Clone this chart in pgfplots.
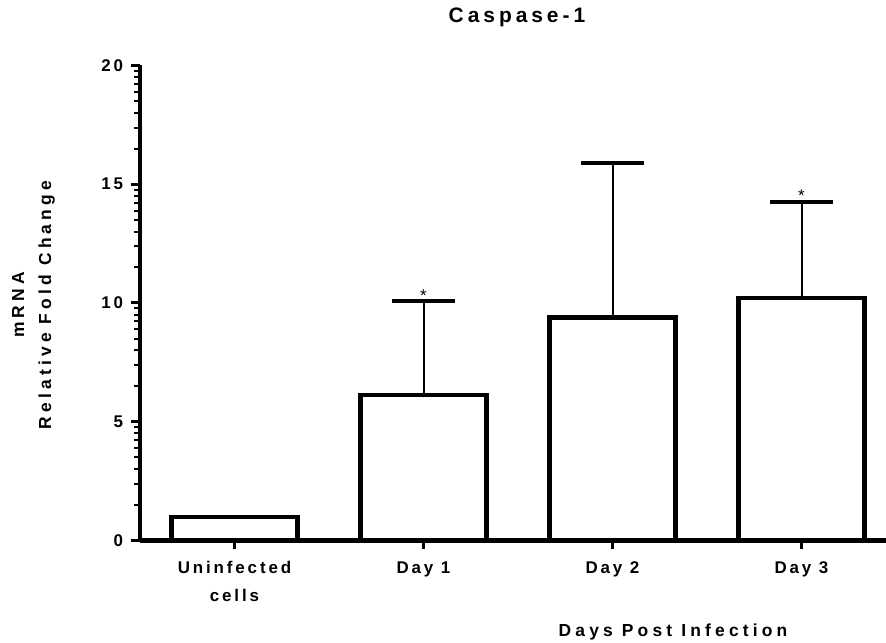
\documentclass[border=0pt]{standalone}
\usepackage{pgfplots}
\pgfplotsset{compat=1.18}
\usepackage{fontspec}
\setmainfont{Liberation Sans}
\newfontfamily\lsf{Liberation Sans}[LetterSpace=17]
\newfontfamily\lsfw{Liberation Sans}[LetterSpace=24]
\newfontfamily\lsft{Liberation Sans}[LetterSpace=19]
\begin{document}
\begin{tikzpicture}
\useasboundingbox (-140bp,-102.5bp) rectangle (746bp,540.5bp);
\begin{axis}[
  at={(0,0)}, anchor=south west,
  scale only axis, width=745.6bp, height=475bp,
  xmin=-0.5, xmax=3.445, ymin=0, ymax=20,
  axis lines=left,
  axis line style={-, line width=4.5bp, black},
  xtick={0,1,2,3},
  xticklabels={{Uninfected\\cells},{Day 1},{Day 2},{Day 3}},
  ytick={0,5,10,15,20},
  minor ytick={1.505,2.386,3.010,3.495,3.891,4.225,4.515,4.771,
               6.505,7.386,8.010,8.495,8.891,9.225,9.515,9.771,
               11.505,12.386,13.010,13.495,13.891,14.225,14.515,14.771,
               16.505,17.386,18.010,18.495,18.891,19.225,19.515,19.771},
  tick align=outside,
  major tick length=8.5bp, minor tick length=6bp,
  major tick style={line width=3bp, black},
  minor tick style={line width=2bp, black},
  /pgf/number format/assume math mode=true,
  ticklabel style={font=\lsf\bfseries\fontsize{17}{28}\selectfont},
  xticklabel style={align=center, yshift=-9bp},
  yticklabel style={xshift=-5bp},
  title={Caspase-1},
  title style={at={(axis description cs:0.5056,1.0895)}, anchor=center,
    font=\lsft\bfseries\fontsize{21}{24}\selectfont},
  xlabel={Days Post Infection},
  xlabel style={at={(axis description cs:0.7149,-0.1926)}, anchor=center,
    font=\lsfw\bfseries\fontsize{17.5}{20}\selectfont},
  ylabel={mRNA\\Relative Fold Change},
  ylabel style={at={(axis description cs:-0.1428,0.4958)}, anchor=center, align=center,
    font=\lsfw\bfseries\fontsize{17.5}{27}\selectfont},
  clip=false,
]
\addplot[ybar, bar width=126bp, draw=black, fill=white, line width=4.5bp]
  coordinates {(0,1.0) (1,6.13) (2,9.38) (3,10.22)};
\addplot[only marks, mark=none,
  error bars/.cd, y dir=plus, y explicit,
  error bar style={line width=2bp, draw=black},
  error mark options={line width=4bp, mark size=31.5bp, draw=black, rotate=90}]
  coordinates {(1,6.13) +- (0,3.95) (2,9.38) +- (0,6.51) (3,10.22) +- (0,4.05)};
\addplot[only marks, mark=none, nodes near coords, point meta=explicit symbolic,
  nodes near coords style={anchor=base, inner sep=0pt, font=\fontsize{17}{17}\selectfont}]
  coordinates {(1,10.08) [*] (3,14.27) [*]};
\end{axis}
\end{tikzpicture}
\end{document}
